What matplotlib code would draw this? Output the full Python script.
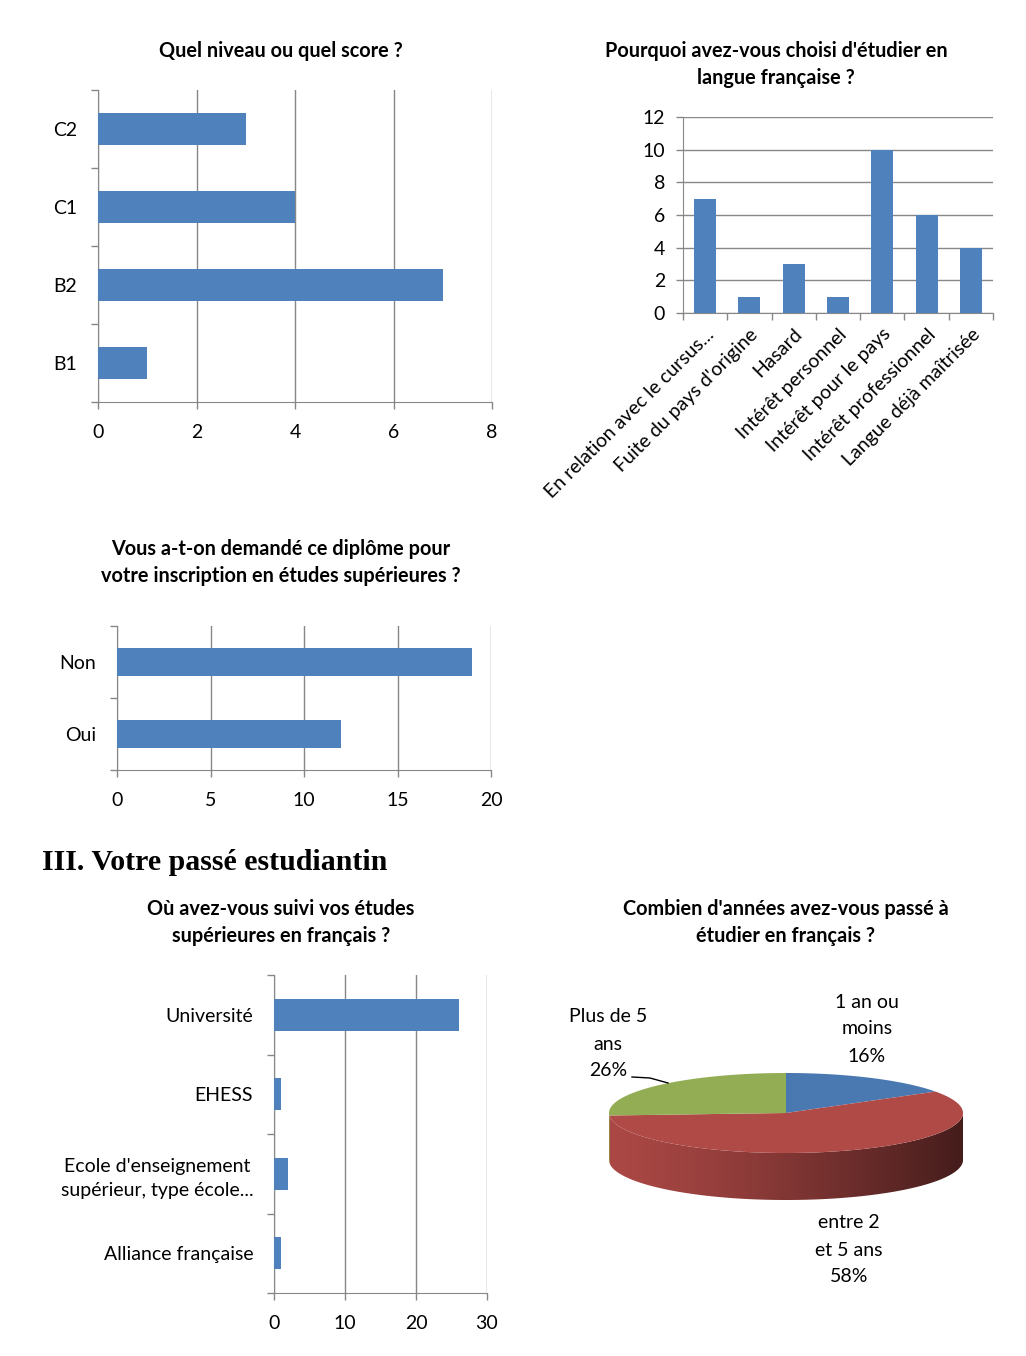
import numpy as np
import matplotlib
matplotlib.use("Agg")
import matplotlib.pyplot as plt
from matplotlib.patches import Polygon

plt.rcParams["font.family"] = ["Lato", "DejaVu Sans"]
plt.rcParams["font.size"] = 14

W, H = 1026, 1356
BAR = "#4F81BD"
GRID = "#878787"

# chart 1 : niveau
niveau_cats = ["B1", "B2", "C1", "C2"]
niveau_vals = [1, 7, 4, 3]

# chart 2 : raisons
raison_cats = ["En relation avec le cursus...", "Fuite du pays d'origine", "Hasard",
               "Intérêt personnel", "Intérêt pour le pays", "Intérêt professionnel",
               "Langue déjà maîtrisée"]
raison_vals = [7, 1, 3, 1, 10, 6, 4]

# chart 3 : diplome demande
diplome_cats = ["Oui", "Non"]
diplome_vals = [12, 19]

# chart 4 : lieu des etudes
lieu_cats = ["Alliance française", "Ecole d'enseignement\nsupérieur, type école...",
             "EHESS", "Université"]
lieu_vals = [1, 2, 1, 26]

# chart 5 : annees (pie)
annee_labels = ["1 an ou\nmoins", "entre 2\net 5 ans", "Plus de 5\nans"]
annee_pct = [16, 58, 26]
annee_colors = ["#4A78B0", "#B04A47", "#93AD54"]

fig = plt.figure(figsize=(W / 100, H / 100), dpi=100)


def px_axes(left, top, right, bottom):
    return fig.add_axes([left / W, 1 - bottom / H, (right - left) / W, (bottom - top) / H])


def ftext(x, y, s, ha="center", **kw):
    fig.text(x / W, 1 - y / H, s, ha=ha, va="center", **kw)


def title(x, y, lines):
    for i, line in enumerate(lines):
        ftext(x, y + 27 * i, line, fontsize=14.3, fontweight="bold")


def hbar(ax, cats, vals, xmax, step):
    y = np.arange(len(cats))
    ax.barh(y, vals, height=0.4, color=BAR, zorder=3)
    ax.set_xlim(0, xmax)
    ax.set_ylim(-0.5, len(cats) - 0.5)
    ax.set_xticks(np.arange(0, xmax + step, step))
    ax.set_yticks(y)
    ax.set_yticklabels(cats, multialignment="center", linespacing=1.45)
    ax.set_yticks(np.arange(-0.5, len(cats), 1), minor=True)
    ax.tick_params(axis="y", which="major", length=0, pad=15)
    ax.tick_params(axis="y", which="minor", length=5, color=GRID, width=1)
    ax.tick_params(axis="x", length=5, color=GRID, width=1, pad=11)
    ax.grid(axis="x", color=GRID, lw=1)
    ax.set_axisbelow(True)
    for s in ["top", "right"]:
        ax.spines[s].set_visible(False)
    for s in ["left", "bottom"]:
        ax.spines[s].set_color(GRID)


# ---- chart 1
title(281, 51, ["Quel niveau ou quel score ?"])
ax1 = px_axes(98, 90, 492, 402)
hbar(ax1, niveau_cats, niveau_vals, 8, 2)

# ---- chart 2
title(776, 51, ["Pourquoi avez-vous choisi d'étudier en", "langue française ?"])
ax2 = px_axes(683, 117, 993, 313)
x = np.arange(len(raison_cats))
ax2.bar(x, raison_vals, width=0.5, color=BAR, zorder=3)
ax2.set_xlim(-0.5, len(raison_cats) - 0.5)
ax2.set_ylim(0, 12)
ax2.set_yticks(np.arange(0, 13, 2))
ax2.set_xticks(x)
ax2.set_xticklabels(raison_cats, rotation=45, ha="right", rotation_mode="anchor")
ax2.set_xticks(np.arange(-0.5, len(raison_cats), 1), minor=True)
ax2.tick_params(axis="x", which="major", length=0, pad=9)
ax2.tick_params(axis="x", which="minor", length=5, color=GRID, width=1)
ax2.tick_params(axis="y", length=5, color=GRID, width=1, pad=8)
ax2.grid(axis="y", color=GRID, lw=1)
ax2.set_axisbelow(True)
for s in ["top", "right"]:
    ax2.spines[s].set_visible(False)
for s in ["left", "bottom"]:
    ax2.spines[s].set_color(GRID)

# ---- chart 3
title(281, 549, ["Vous a-t-on demandé ce diplôme pour",
                 "votre inscription en études supérieures ?"])
ax3 = px_axes(117, 626, 491, 770)
hbar(ax3, diplome_cats, diplome_vals, 20, 5)

# ---- section heading
ftext(42, 862, "III. Votre passé estudiantin", ha="left", fontweight="bold",
      fontsize=21.5, family=["Liberation Serif", "DejaVu Serif"])

# ---- chart 4
title(281, 909, ["Où avez-vous suivi vos études", "supérieures en français ?"])
ax4 = px_axes(274, 975, 487, 1293)
hbar(ax4, lieu_cats, lieu_vals, 30, 10)

# ---- chart 5 : 3D pie drawn on a pixel-coordinate axes
title(786, 909, ["Combien d'années avez-vous passé à", "étudier en français ?"])
ax5 = px_axes(560, 960, 1010, 1300)
cx, cy, rx, ry, depth = 786, 1113, 177, 40, 47
fracs = np.array(annee_pct) / sum(annee_pct)
bounds = 360 * np.cumsum(fracs)
starts = np.concatenate([[0], bounds[:-1]])


def ell(t):
    t = np.radians(t)
    return cx + rx * np.sin(t), cy - ry * np.cos(t)

# side (front half of the cylinder), shaded left -> right
tf = np.linspace(90, 270, 200)
ex, ey = ell(tf)
side = np.concatenate([np.column_stack([ex, ey]), np.column_stack([ex[::-1], ey[::-1] + depth])])
side_poly = Polygon(side, closed=True, facecolor="none", edgecolor="none")
ax5.add_patch(side_poly)
xs = np.linspace(cx - rx, cx + rx, 500)
tcol = 180 - np.degrees(np.arcsin(np.clip((xs - cx) / rx, -1, 1)))
idx = np.minimum(np.searchsorted(bounds, tcol), len(bounds) - 1)
base = np.array([matplotlib.colors.to_rgb(annee_colors[i]) for i in idx])
u = (xs - xs[0]) / (xs[-1] - xs[0])
shade = 0.97 - 0.58 * u ** 1.3
img = (base * shade[:, None])[None, :, :]
im = ax5.imshow(img, extent=(cx - rx, cx + rx, cy + ry + depth, cy - ry),
                aspect="auto", interpolation="bilinear", zorder=1)
im.set_clip_path(side_poly)

# top face
for s0, s1, col in zip(starts, bounds, annee_colors):
    tt = np.linspace(s0, s1, 120)
    px, py = ell(tt)
    pts = np.vstack([[cx, cy], np.column_stack([px, py])])
    ax5.add_patch(Polygon(pts, closed=True, facecolor=col, edgecolor="none", zorder=2))

ax5.set_xlim(560, 1010)
ax5.set_ylim(1300, 960)
ax5.axis("off")

# pie labels
label_pos = [(867, 1002), (849, 1223), (608, 1017)]
for (lx, ly), lab, p in zip(label_pos, annee_labels, annee_pct):
    lines = lab.split("\n") + [f"{p}%"]
    for i, line in enumerate(lines):
        ftext(lx, ly + 27 * i, line, fontsize=14)
ax5.plot([632, 650, 668], [1077, 1078, 1083], color="black", lw=1, zorder=3)

fig.savefig("out.png", dpi=100)
